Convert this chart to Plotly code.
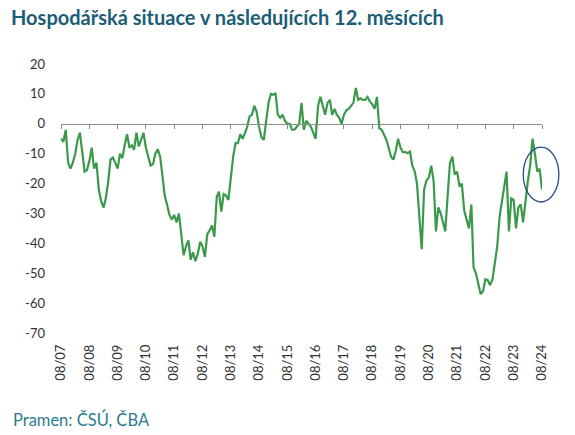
import pandas as pd
import plotly.graph_objects as go

# monthly balance, 08/2007 - 08/2024
vals_a = [-5, -6, -2, -13, -15, -13, -10, -5.5, -3, -9, -16, -15.5, -12.5, -8, -15, -13, -22, -26, -28, -25,
          -19.5, -12, -11.3, -13, -15, -10, -11.5, -7, -3.5, -8, -7.2, -8.7, -3, -7.6, -5, -3, -8, -11, -14, -13.5,
          -10, -8.5, -11, -17, -24, -27, -30.5, -32, -30.5, -33, -30]
vals_b = [-37, -44, -41, -39, -45.5, -43, -46, -43.5, -39.5, -41, -44.5, -37, -35.6, -34, -37.8, -24.4,
          -22.7, -29.4, -23.5, -24, -25.5, -17, -11, -6.5, -6.5, -3.5, -5, -3, -1, 2.5, 3, 6, 4, -1, -4.5, -5.4,
          1.3, 7, 10, 9.7, 10.3, 3]
vals_c = [2, 3, 1, 0, 0, -2, -2, -1, 0, 7, -2, 1, 0, -1, -3, -5, 6, 9, 6, 3, 7, 8, 3, 5, 3, 2, 0, 3, 4.5, 5,
          6, 7, 12, 8, 8.5, 8, 8, 9, 7.5, 6.5, 5, 9]
vals_d = [-1.5, -2, -3.7, -5.4, -8, -11, -12, -9, -5, -8, -9.5, -9.5, -9.8, -9.3, -14, -16, -20, -33, -42, -22,
          -19, -18, -14, -19, -36, -28, -30, -33, -36, -24, -13, -11, -17, -16, -21]
vals_e = [-20, -29, -32, -35, -27, -48, -50, -53, -57, -56, -52, -52.3, -54, -52, -47, -41, -31, -26, -20, -16,
          -36, -25, -25.5, -35, -28, -27, -33, -25, -19, -14, -5, -10, -16, -15, -22]

values = vals_a + vals_b + vals_c + vals_d + vals_e
dates = pd.date_range('2007-08-01', periods=len(values), freq='MS')

tick_dates = pd.date_range('2007-08-01', '2024-08-01', freq='12MS')
tick_labels = [d.strftime('%m/%y') for d in tick_dates]
y_ticks = list(range(20, -80, -10))
y_labels = [str(v) for v in y_ticks]

FONT = 'Lato'

fig = go.Figure()
fig.add_trace(go.Scatter(x=dates, y=values, mode='lines',
                         line=dict(color='#3a9a4a', width=2.2), showlegend=False, hoverinfo='skip'))
# invisible trace on x2 so the zero-line axis (with its tick marks) is drawn
fig.add_trace(go.Scatter(x=[dates[0], dates[-1]], y=[0, 0], xaxis='x2', mode='lines',
                         line=dict(width=0), opacity=0, showlegend=False, hoverinfo='skip'))

# highlight of the latest months (in paper units, it sticks out of the plot area)
fig.add_shape(type='circle', xref='paper', yref='paper',
              x0=0.961, x1=1.035, y0=0.487, y1=0.691,
              line=dict(color='#2b4a8a', width=1.3))

fig.update_layout(
    width=575, height=435,
    margin=dict(l=61, r=33, t=64, b=102),
    paper_bgcolor='white', plot_bgcolor='white',
    font=dict(family=FONT, size=12, color='#333333'),
    xaxis=dict(range=[dates[0], dates[-1]], tickvals=tick_dates, ticktext=tick_labels,
               tickangle=-90, showgrid=False, showline=False, ticks='', zeroline=False,
               ticklabelstandoff=8, tickfont=dict(size=13, color='#333333')),
    xaxis2=dict(overlaying='x', range=[dates[0], dates[-1]], anchor='free', position=70 / 90,
                side='bottom', tickvals=tick_dates, showticklabels=False, showline=True,
                linecolor='#8c8c8c', linewidth=1, ticks='outside', ticklen=4, tickcolor='#8c8c8c',
                showgrid=False, zeroline=False),
    yaxis=dict(range=[-70, 20], tickvals=y_ticks, ticktext=y_labels, showgrid=False,
               zeroline=False, showline=False, ticks='', ticklabelstandoff=15,
               tickfont=dict(size=13, color='#333333')),
    title=dict(text='<b>Hospodářská situace v následujících 12. měsících</b>',
               x=11 / 575, xanchor='left', y=1 - 18 / 435, yanchor='middle',
               font=dict(family=FONT, size=20, color='#1b5d76')),
)

fig.add_annotation(text='Pramen: ČSÚ, ČBA', xref='paper', yref='paper',
                   x=-50 / 481, y=-(419 - 333) / 269, xanchor='left', yanchor='middle',
                   showarrow=False, font=dict(family=FONT, size=16.5, color='#2b7b8e'))

fig.write_html('out.html', config={'displayModeBar': False},
               post_script="document.body.style.margin='0';")
